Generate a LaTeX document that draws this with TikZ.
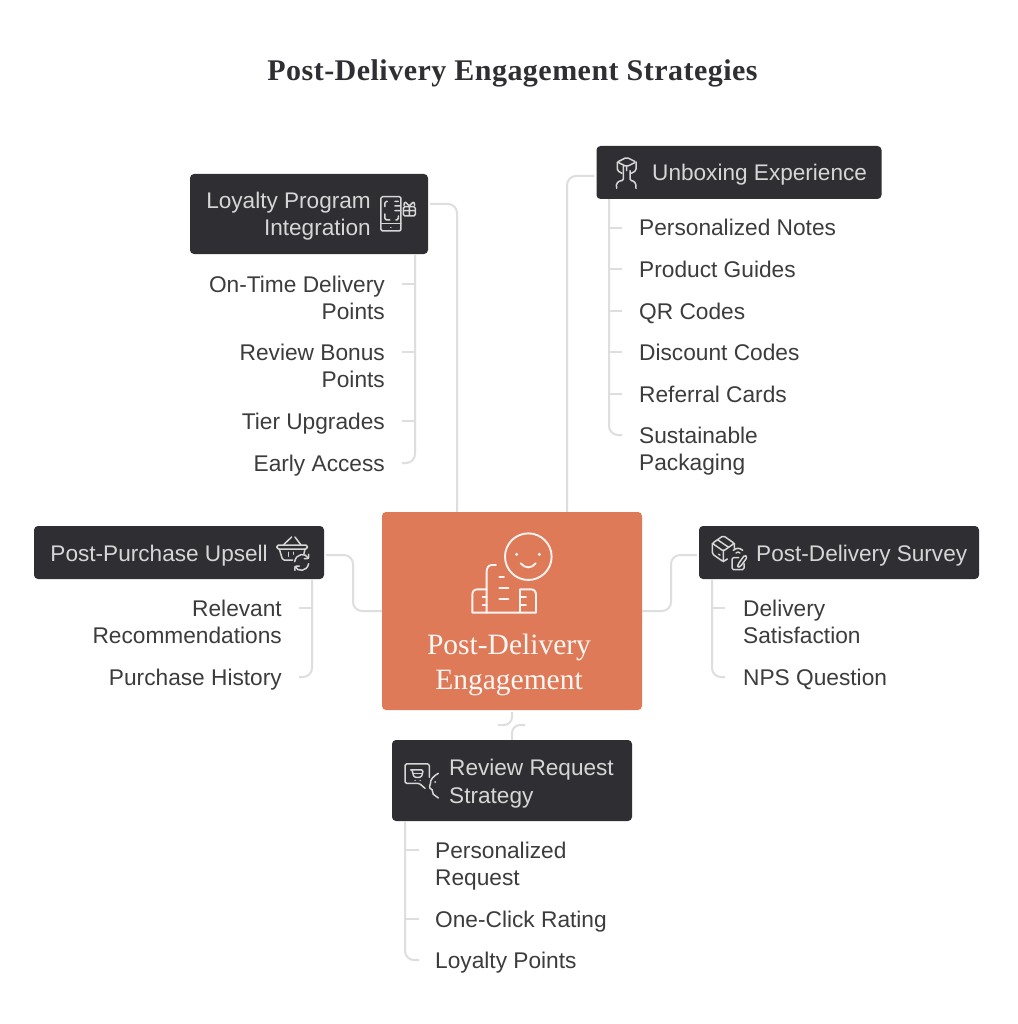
\documentclass[tikz,border=0pt]{standalone}
\usepackage{fontspec}
\setmainfont{Liberation Sans}
\newfontfamily\headserif[LetterSpace=1.6]{Liberation Serif}
\newfontfamily\hubserif{Liberation Serif}
\usetikzlibrary{calc}
\usetikzlibrary{positioning}
\definecolor{inkdark}{HTML}{2F2F33}
\definecolor{inkleaf}{HTML}{3C3C3C}
\definecolor{inkpale}{HTML}{D6D6D6}
\definecolor{hubfill}{HTML}{DF7A59}
\definecolor{linegray}{HTML}{DEDEDE}
\tikzset{
  headbox/.style={fill=inkdark, rounded corners=4pt, inner sep=0pt},
  headtxt/.style={text=inkpale, font=\fontsize{22.6}{27.7}\selectfont, inner sep=0pt},
  leafl/.style={anchor=base east, align=right, text=inkleaf, font=\fontsize{22.7}{27.7}\selectfont, inner sep=0pt},
  leafr/.style={anchor=base west, align=left, text=inkleaf, font=\fontsize{22.7}{27.7}\selectfont, inner sep=0pt},
  link/.style={draw=linegray, line width=2pt, rounded corners=9pt},
  glyph/.style={draw=inkpale, line width=1.5pt, line cap=round, line join=round, rounded corners=1.5pt},
  hubglyph/.style={draw=white!92!hubfill, line width=1.9pt, line cap=round, line join=round}
}
\begin{document}
\begin{tikzpicture}[x=1pt,y=-1pt]
      \useasboundingbox[fill=white] (0,0) rectangle (1017,1024);

      \node[text=inkdark, inner sep=0pt, font=\headserif\bfseries\fontsize{30}{34}\selectfont] (title) at (512.5,73) {Post-Delivery Engagement Strategies};

      % hub
      \node[fill=hubfill, rounded corners=4pt, minimum width=260pt, minimum height=198pt, inner sep=0pt] (hub) at (512,611) {};
      \node[text=white!94!hubfill, inner sep=0pt, align=center, font=\hubserif\fontsize{29.5}{34.5}\selectfont] (hubtxt) at (509,665) {Post-Delivery\\Engagement};

      % head boxes
      \node[headbox, minimum width=238pt, minimum height=80pt] (loy) at (309,214) {};
      \node[headbox, minimum width=285pt, minimum height=53pt] (unb) at (739,172.5) {};
      \node[headbox, minimum width=290pt, minimum height=53pt] (ups) at (179,552.5) {};
      \node[headbox, minimum width=280pt, minimum height=53pt] (sur) at (839,552.5) {};
      \node[headbox, minimum width=240pt, minimum height=81pt] (rev) at (512,780.5) {};

      \node[headtxt, anchor=base east, align=right] (loytxt) at (371,236) {Loyalty Program\\Integration};
      \node[headtxt, anchor=base west] (unbtxt) at (652,181) {Unboxing Experience};
      \node[headtxt, anchor=base east] (upstxt) at (268,561) {Post-Purchase Upsell};
      \node[headtxt, anchor=base west] (surtxt) at (756,561) {Post-Delivery Survey};
      \node[headtxt, anchor=base west, align=left] (revtxt) at (449,803) {Review Request\\Strategy};

      % leaves
      \node[leafl] (loy1) at (385,319.7) {On-Time Delivery\\Points};
      \node[leafl] (loy2) at (385,387.7) {Review Bonus\\Points};
      \node[leafl] (loy3) at (385,429) {Tier Upgrades};
      \node[leafl] (loy4) at (385,471) {Early Access};

      \node[leafr] (unb1) at (639,236) {Personalized Notes};
      \node[leafr] (unb2) at (639,277) {Product Guides};
      \node[leafr] (unb3) at (639,319) {QR Codes};
      \node[leafr] (unb4) at (639,360) {Discount Codes};
      \node[leafr] (unb5) at (639,402) {Referral Cards};
      \node[leafr] (unb6) at (639,470.7) {Sustainable\\Packaging};

      \node[leafl] (ups1) at (282,643.7) {Relevant\\Recommendations};
      \node[leafl] (ups2) at (282,685) {Purchase History};

      \node[leafr] (sur1) at (743,643.7) {Delivery\\Satisfaction};
      \node[leafr] (sur2) at (743,685) {NPS Question};

      \node[leafr] (rev1) at (435,885.7) {Personalized\\Request};
      \node[leafr] (rev2) at (435,927) {One-Click Rating};
      \node[leafr] (rev3) at (435,968) {Loyalty Points};

      % hub links
      \draw[link] ([yshift=10pt]loy.east) ++(2,0) -| (hub.north -| 457,0);
      \draw[link] (unb.west |- 0,176) ++(-2,0) -| (hub.north -| 567,0);
      \draw[link] (ups.east) ++(2,2.5) -- (353,555) -- (353,611) -- (hub.west);
      \draw[link] (sur.west) ++(-2,2.5) -- (671,555) -- (671,611) -- (hub.east);
      \draw[link, rounded corners=8pt] (512,712) -- (512,725) -- (498,725);
      \draw[link, rounded corners=8pt] (525,725) -- (512,725) -- (rev.north -| 512,0);

      % trunks and ticks
      \draw[link] (loy.south -| 415,0) -- (415,463) -- ($(loy4.base east)+(17,-8)$);
      \draw[link, rounded corners=0pt] ($(loy1.base east)+(17,-35.7)$) -- +(13,0);
      \draw[link, rounded corners=0pt] ($(loy2.base east)+(17,-35.7)$) -- +(13,0);
      \draw[link, rounded corners=0pt] ($(loy3.base east)+(17,-8)$) -- +(13,0);

      \draw[link] (unb.south -| 609,0) -- (609,435) -- ($(unb6.base west)+(-17,-35.7)$);
      \draw[link, rounded corners=0pt] ($(unb1.base west)+(-17,-8)$) -- +(-13,0);
      \draw[link, rounded corners=0pt] ($(unb2.base west)+(-17,-8)$) -- +(-13,0);
      \draw[link, rounded corners=0pt] ($(unb3.base west)+(-17,-8)$) -- +(-13,0);
      \draw[link, rounded corners=0pt] ($(unb4.base west)+(-17,-8)$) -- +(-13,0);
      \draw[link, rounded corners=0pt] ($(unb5.base west)+(-17,-8)$) -- +(-13,0);

      \draw[link] (ups.south -| 312,0) -- (312,677) -- ($(ups2.base east)+(17,-8)$);
      \draw[link, rounded corners=0pt] ($(ups1.base east)+(17,-35.7)$) -- +(13,0);

      \draw[link] (sur.south -| 712,0) -- (712,677) -- ($(sur2.base west)+(-18,-8)$);
      \draw[link, rounded corners=0pt] ($(sur1.base west)+(-18,-35.7)$) -- +(-13,0);

      \draw[link] (rev.south -| 405,0) -- (405,960) -- ($(rev3.base west)+(-16,-8)$);
      \draw[link, rounded corners=0pt] ($(rev1.base west)+(-16,-35.7)$) -- +(-14,0);
      \draw[link, rounded corners=0pt] ($(rev2.base west)+(-16,-8)$) -- +(-14,0);

      % hub icon, drawn in 3x crop units
      \begin{scope}[shift={(370,500)}, x=0.3333pt, y=-0.3333pt]
        \draw[hubglyph] (475,170) circle (23.3pt);
        \fill[white] (440,163) circle (1.6pt) (508,163) circle (1.6pt);
        \draw[hubglyph] (452,190) .. controls (465,206) and (485,206) .. (497,190);
        \draw[hubglyph] (378,195) -- (365,195) .. controls (355,195) and (350,205) .. (350,215) -- (350,338);
        \draw[hubglyph] (350,268) -- (322,268) .. controls (312,268) and (307,275) .. (307,285) -- (307,338) -- (498,338) -- (498,285) .. controls (498,275) and (493,268) .. (483,268) -- (450,268) -- (450,338);
        \draw[hubglyph] (388,230) -- (402,230) (388,264) -- (415,264) (388,298) -- (415,298);
        \draw[hubglyph] (338,292) -- (350,292) (338,314) -- (350,314) (450,290) -- (468,290) (450,314) -- (468,314);
      \end{scope}

      % loyalty icon
      \begin{scope}[shift={(180,140)}, x=0.3333pt, y=-0.3333pt]
        \draw[glyph] (603,185) -- (603,273) -- (663,273) -- (663,170) -- (603,170) -- cycle;
        \draw[glyph] (603,250) -- (663,250) (632,262) -- (633,262);
        \draw[glyph] (622,184) -- (615,184) -- (615,200) (615,222) -- (615,240) -- (630,240) (645,184) -- (655,184) (645,198) -- (662,198) (645,212) -- (662,212) (648,240) -- (655,240) -- (655,228);
        \draw[glyph] (670,200) -- (706,200) -- (706,228) -- (670,228) -- cycle (670,212) -- (706,212) (688,200) -- (688,228);
        \draw[glyph] (688,198) -- (674,184) -- (672,196) (688,198) -- (702,184) -- (704,196);
      \end{scope}

      % unboxing icon
      \begin{scope}[shift={(560,140)}, x=0.3333pt, y=-0.3333pt]
        \draw[glyph] (172,66) -- (200,52) -- (228,66) -- (200,80) -- cycle;
        \draw[glyph] (172,66) -- (172,92) -- (186,100) (228,66) -- (228,92) -- (214,100) (200,80) -- (200,92);
        \draw[glyph] (190,78) -- (190,122) .. controls (175,122) and (166,130) .. (170,145);
        \draw[glyph] (210,92) -- (210,122) .. controls (222,122) and (230,130) .. (228,145);
      \end{scope}

      % upsell icon
      \begin{scope}[shift={(20,515)}, x=0.3333pt, y=-0.3333pt]
        \draw[glyph] (771,90) -- (862,90) -- (862,102) -- (771,102) -- cycle;
        \draw[glyph] (790,90) -- (815,66) (843,90) -- (825,66);
        \draw[glyph] (778,102) -- (788,135) -- (818,135) (855,102) -- (852,116);
        \draw[glyph] (806,112) -- (806,124) (821,112) -- (821,118);
        \draw[glyph] (824,140) .. controls (828,115) and (858,112) .. (865,130);
        \draw[glyph] (866,146) .. controls (862,170) and (832,172) .. (825,154);
        \draw[glyph] (866,118) -- (866,131) -- (853,131) (825,166) -- (825,153) -- (838,153);
      \end{scope}

      % survey icon
      \begin{scope}[shift={(640,515)}, x=0.3333pt, y=-0.3333pt]
        \draw[glyph] (217,85) -- (250,62) -- (283,85) -- (250,108) -- cycle;
        \draw[glyph] (217,85) -- (217,117) -- (250,140) -- (262,132) (250,108) -- (250,140) (283,85) -- (283,100);
        \draw[glyph] (232,74) -- (266,97) (236,118) -- (240,120);
        \draw[glyph] (280,106) .. controls (288,98) and (300,98) .. (308,106) (288,114) .. controls (292,110) and (296,110) .. (300,114);
        \draw[glyph] (296,128) -- (276,128) -- (276,164) -- (312,164) -- (312,146);
        \draw[glyph] (294,148) -- (314,120) -- (322,126) -- (302,154) -- (292,158) -- cycle;
      \end{scope}

      % review icon
      \begin{scope}[shift={(370,500)}, x=0.3333pt, y=-0.3333pt]
        \draw[glyph] (178,832) -- (178,792) -- (105,792) -- (105,850) -- (148,850) -- (165,865);
        \draw[glyph] (122,810) -- (160,810) -- (154,832) -- (132,832) -- (126,810);
        \draw[glyph] (130,820) -- (155,820) (135,841) -- (136,841) (150,841) -- (151,841);
        \draw[glyph] (205,820) .. controls (190,828) and (180,840) .. (182,855) -- (176,862) -- (190,872) -- (186,880) -- (205,894);
        \draw[glyph] (195,846) -- (196,846);
      \end{scope}
    \end{tikzpicture}
\end{document}
